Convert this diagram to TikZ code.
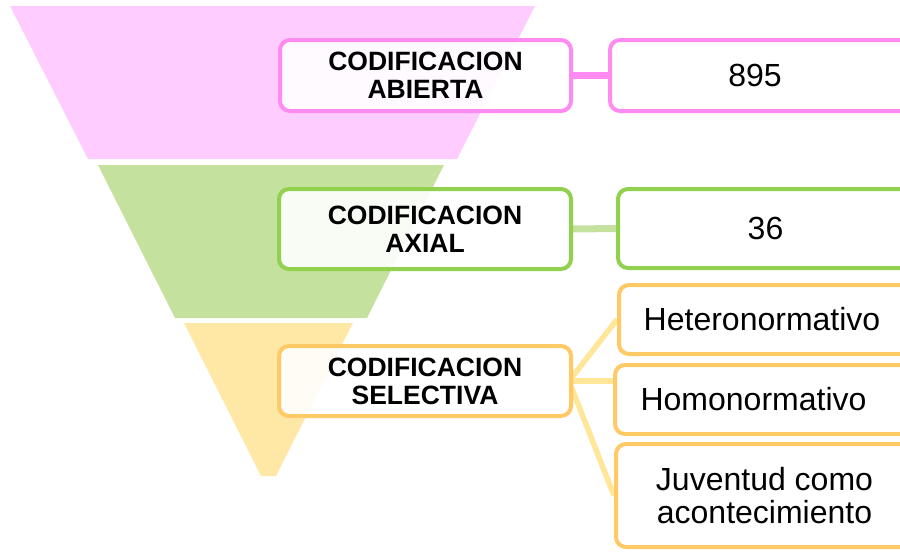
\documentclass[tikz,border=0pt]{standalone}
\usepackage{fontspec}
\setmainfont{Liberation Sans}
\usetikzlibrary{calc}
\definecolor{pinkfill}{HTML}{FFCCFF}
\definecolor{pinkline}{HTML}{FF8BF2}
\definecolor{greenfill}{HTML}{C4E29E}
\definecolor{greenline}{HTML}{92D050}
\definecolor{greenlink}{HTML}{C4E29E}
\definecolor{yellowfill}{HTML}{FFE8A6}
\definecolor{yellowline}{HTML}{FFCA66}
\definecolor{yellowlink}{HTML}{FFE699}
\pgfdeclarelayer{bg}
\pgfdeclarelayer{links}
\pgfsetlayers{bg,links,main}
\begin{document}
\begin{tikzpicture}[x=1pt,y=-1pt,
  box/.style={draw, line width=4pt, rounded corners=10pt, fill=white,
    fill opacity=0.9, text opacity=1, inner sep=0pt, align=center},
  head/.style={box, font=\fontsize{26.5}{28}\selectfont\bfseries},
  val/.style={box, font=\fontsize{32}{33.5}\selectfont},
  link/.style={line width=7pt},
  sublink/.style={line width=5.5pt, yellowlink}]
\useasboundingbox (0,0) rectangle (900,552);
\clip (0,0) rectangle (900,552);

% funnel levels
\begin{pgfonlayer}{bg}
\fill[pinkfill] (10,6) -- (535,6) -- (457,159) -- (88,159) -- cycle;
\fill[greenfill] (98,165) -- (444,165) -- (367,318) -- (175,318) -- cycle;
\fill[yellowfill] (184,323) -- (353,323) -- (276,476) -- (261,476) -- cycle;
\end{pgfonlayer}

% boxes
\node[head, draw=pinkline, minimum width=291pt, minimum height=71pt] (ab) at (425.5,75.5) {CODIFICACION\\ABIERTA};
\node[val, draw=pinkline, minimum width=303pt, minimum height=71pt] (v895) at (761.5,75.5) {895\hspace*{13pt}};

\node[head, draw=greenline, minimum width=292pt, minimum height=80pt] (ax) at (425,229) {CODIFICACION\\AXIAL};
\node[val, draw=greenline, minimum width=295pt, minimum height=79pt] (v36) at (765.5,228.5) {36};

\node[head, draw=yellowline, minimum width=292pt, minimum height=70pt] (se) at (425,381) {CODIFICACION\\SELECTIVA};
\node[val, draw=yellowline, minimum width=294pt, minimum height=69pt] (het) at (766,319.5) {Heteronormativo\hspace*{8pt}};
\node[val, draw=yellowline, minimum width=298pt, minimum height=69pt] (hom) at (764,399.5) {Homonormativo\hspace*{21pt}};
\node[val, draw=yellowline, minimum width=297pt, minimum height=103pt] (juv) at (764.5,495.5) {Juventud como\\acontecimiento};

% connectors
\begin{pgfonlayer}{links}
\draw[link, pinkline] (ab.east) -- (v895.west);
\draw[link, greenlink] (ax.east) -- (v36.west);
\coordinate (hub) at ($(se.east)+(-4,0)$);
\draw[sublink] (hub) -- (het.west);
\draw[sublink] (hub) -- (hom.west |- hub);
\draw[sublink] (hub) -- (juv.west);
\end{pgfonlayer}
\end{tikzpicture}
\end{document}
